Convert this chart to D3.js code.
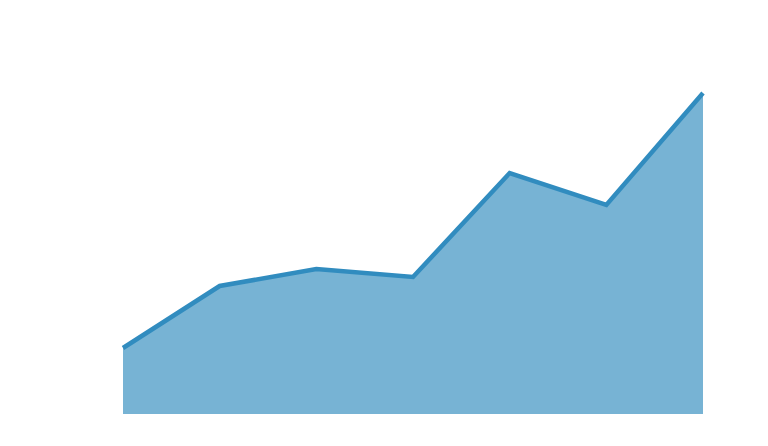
<!DOCTYPE html>
<html>
<head>
<meta charset="utf-8">
<script src="https://cdn.jsdelivr.net/npm/d3@7"></script>
<style>
  body { margin: 0; background: #fff; }
</style>
</head>
<body>
<div id="chart"></div>
<script>
var labels = ['A', 'B', 'C', 'D', 'E', 'F', 'G'];
var values = [6.6, 12.8, 14.5, 13.7, 24.1, 20.9, 32.1];

var width = 768;
var height = 446;

var svg = d3.select('#chart')
    .append('svg')
    .attr('width', width)
    .attr('height', height);

var x = d3.scalePoint()
    .domain(labels)
    .range([123, 703]);

var y = d3.scaleLinear()
    .domain([0, 32.1])
    .range([414, 93]);

var data = labels.map(function (d, i) { return { label: d, value: values[i] }; });

var area = d3.area()
    .x(function (d) { return x(d.label); })
    .y0(y(0))
    .y1(function (d) { return y(d.value); });

var line = d3.line()
    .x(function (d) { return x(d.label); })
    .y(function (d) { return y(d.value); });

svg.append('path')
    .attr('d', area(data))
    .attr('fill', '#77b3d4');

svg.append('path')
    .attr('d', line(data))
    .attr('fill', 'none')
    .attr('stroke', '#318cbf')
    .attr('stroke-width', 4.5);
</script>
</body>
</html>
